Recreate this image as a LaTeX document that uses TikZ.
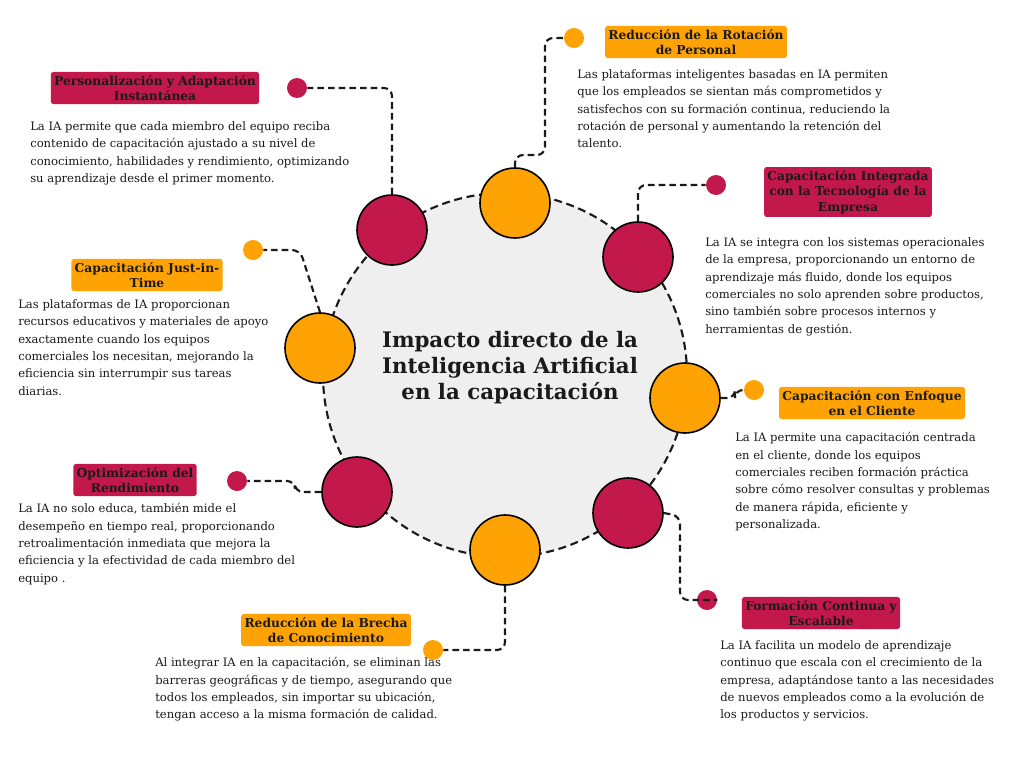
\documentclass[tikz,border=0pt]{standalone}
\usepackage{fontspec}
\setmainfont{DejaVu Serif}
\definecolor{mag}{HTML}{C2184B}
\definecolor{org}{HTML}{FFA305}
\definecolor{bg}{HTML}{EFEFEF}
\definecolor{txt}{HTML}{1A1A1A}
\begin{document}
\begin{tikzpicture}[x=0.75pt,y=-0.75pt,
  big/.style={circle,draw=black,line width=1.2pt,minimum size=70*0.75pt,inner sep=0},
  dot/.style={circle,minimum size=20*0.75pt,inner sep=0},
  conn/.style={draw=txt,line width=1.6pt,dash pattern=on 5pt off 3pt,rounded corners=6pt},
  lab/.style={font=\fontsize{9.2}{11.6}\selectfont\bfseries,text=txt,align=center,inner sep=2.5pt,rounded corners=2pt},
  body/.style={font=\fontsize{8.7}{13.1}\selectfont,text=txt,align=left,anchor=north west,inner sep=0}]
\useasboundingbox (0,0) rectangle (1024,768);
\fill[white] (0,0) rectangle (1024,768);
\node[circle,fill=bg,draw=txt,line width=1.6pt,dash pattern=on 6pt off 3.5pt,minimum size=364*0.75pt] (hub) at (505,375) {};
\node[font=\fontsize{16}{19.5}\selectfont\bfseries,align=center,text=txt] (title) at (510,368) {Impacto directo de la\\Inteligencia Artificial\\en la capacitación};
% satellite circles
\node[big,fill=mag] (c1) at (392,230) {};
\node[big,fill=org] (c2) at (515,203) {};
\node[big,fill=mag] (c3) at (638,257) {};
\node[big,fill=org] (c4) at (685,398) {};
\node[big,fill=mag] (c5) at (628,513) {};
\node[big,fill=org] (c6) at (505,550) {};
\node[big,fill=mag] (c7) at (357,492) {};
\node[big,fill=org] (c8) at (320,348) {};
% dots
\node[dot,fill=mag] (d1) at (297,88) {};
\node[dot,fill=org] (d2) at (574,38) {};
\node[dot,fill=mag] (d3) at (716,185) {};
\node[dot,fill=org] (d4) at (754,390) {};
\node[dot,fill=mag] (d5) at (707,600) {};
\node[dot,fill=org] (d6) at (433,650) {};
\node[dot,fill=mag] (d7) at (237,481) {};
\node[dot,fill=org] (d8) at (253,250) {};
% connectors
\draw[conn] (c1.north) -- (392,88) -- (d1.east);
\draw[conn] (c2.north) -- (515,155) -- (545,155) -- (545,38) -- (d2.west);
\draw[conn] (c3.north) -- (638,185) -- (d3.west);
\draw[conn] (c4.east) -- (735,398) -- (735,390) -- (d4.west);
\draw[conn] (c5.east) -- (680,516) -- (680,600) -- (d5.east);
\draw[conn] (c6.south) -- (505,650) -- (d6.east);
\draw[conn] (c7.west) -- (295,492) -- (295,481) -- (d7.east);
\draw[conn] (c8.north) -- (300,250) -- (d8.east);
% labels
\node[lab,fill=mag] (l1) at (155,88) {Personalización y Adaptación\\Instantánea};
\node[lab,fill=org] (l2) at (696,42) {Reducción de la Rotación\\de Personal};
\node[lab,fill=mag] (l3) at (848,192) {Capacitación Integrada\\con la Tecnología de la\\Empresa};
\node[lab,fill=org] (l4) at (147,275) {Capacitación Just-in-\\Time};
\node[lab,fill=org] (l5) at (872,403) {Capacitación con Enfoque\\en el Cliente};
\node[lab,fill=mag] (l6) at (135,480) {Optimización del\\Rendimiento};
\node[lab,fill=mag] (l7) at (821,613) {Formación Continua y\\Escalable};
\node[lab,fill=org] (l8) at (326,630) {Reducción de la Brecha\\de Conocimiento};
% bodies
\node[body] (b1) at (30,121) {La IA permite que cada miembro del equipo reciba\\contenido de capacitación ajustado a su nivel de\\conocimiento, habilidades y rendimiento, optimizando\\su aprendizaje desde el primer momento.};
\node[body] (b2) at (577,69) {Las plataformas inteligentes basadas en IA permiten\\que los empleados se sientan más comprometidos y\\satisfechos con su formación continua, reduciendo la\\rotación de personal y aumentando la retención del\\talento.};
\node[body] (b3) at (705,237) {La IA se integra con los sistemas operacionales\\de la empresa, proporcionando un entorno de\\aprendizaje más fluido, donde los equipos\\comerciales no solo aprenden sobre productos,\\sino también sobre procesos internos y\\herramientas de gestión.};
\node[body] (b4) at (18,299) {Las plataformas de IA proporcionan\\recursos educativos y materiales de apoyo\\exactamente cuando los equipos\\comerciales los necesitan, mejorando la\\eficiencia sin interrumpir sus tareas\\diarias.};
\node[body] (b5) at (735,432) {La IA permite una capacitación centrada\\en el cliente, donde los equipos\\comerciales reciben formación práctica\\sobre cómo resolver consultas y problemas\\de manera rápida, eficiente y\\personalizada.};
\node[body] (b6) at (18,503) {La IA no solo educa, también mide el\\desempeño en tiempo real, proporcionando\\retroalimentación inmediata que mejora la\\eficiencia y la efectividad de cada miembro del\\equipo .};
\node[body] (b7) at (720,640) {La IA facilita un modelo de aprendizaje\\continuo que escala con el crecimiento de la\\empresa, adaptándose tanto a las necesidades\\de nuevos empleados como a la evolución de\\los productos y servicios.};
\node[body] (b8) at (155,657) {Al integrar IA en la capacitación, se eliminan las\\barreras geográficas y de tiempo, asegurando que\\todos los empleados, sin importar su ubicación,\\tengan acceso a la misma formación de calidad.};
\end{tikzpicture}
\end{document}
